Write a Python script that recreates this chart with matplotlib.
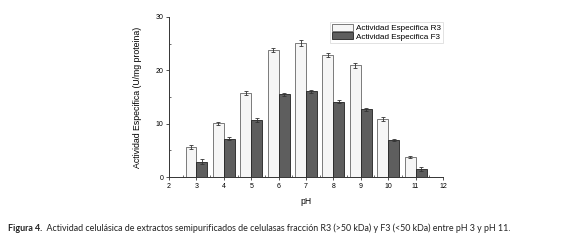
import matplotlib
matplotlib.use("Agg")
import matplotlib.pyplot as plt
import numpy as np
from matplotlib.ticker import MultipleLocator

ph = [3, 4, 5, 6, 7, 8, 9, 10, 11]
r3 = [5.6, 10.1, 15.7, 23.8, 25.1, 22.9, 20.9, 10.9, 3.7]
r3_err = [0.35, 0.3, 0.4, 0.45, 0.5, 0.4, 0.4, 0.4, 0.2]
f3 = [2.9, 7.2, 10.7, 15.5, 16.1, 14.1, 12.7, 6.9, 1.5]
f3_err = [0.4, 0.35, 0.35, 0.25, 0.3, 0.25, 0.25, 0.2, 0.4]

label_r3 = "Actividad Especifica R3"
label_f3 = "Actividad Especifica F3"
xlabel = "pH"
ylabel = "Actividad Especifica (U/mg proteina)"
caption_bold = "Figura 4."
caption_text = ("  Actividad celulásica de extractos semipurificados de celulasas fracción R3 "
                "(>50 kDa) y F3 (<50 kDa) entre pH 3 y pH 11.")

plt.rcParams['font.family'] = ['Liberation Sans', 'DejaVu Sans']

fig = plt.figure(figsize=(5.79, 2.49), dpi=100)
ax = fig.add_axes([0.292, 0.289, 0.473, 0.643])

x = np.array(ph, dtype=float)
w = 0.4
ekw = dict(elinewidth=0.6, capthick=0.6, ecolor='#333333')
ax.bar(x - w/2, r3, width=w, color='#f6f6f6', edgecolor='#666666', linewidth=0.6,
       yerr=r3_err, capsize=1.5, error_kw=ekw, label=label_r3)
ax.bar(x + w/2, f3, width=w, color='#5e5e5e', edgecolor='#222222', linewidth=0.6,
       yerr=f3_err, capsize=1.5, error_kw=ekw, label=label_f3)

ax.set_xlim(2, 12)
ax.set_ylim(0, 30)
ax.set_xticks(range(2, 13))
ax.set_yticks([0, 10, 20, 30])
ax.xaxis.set_minor_locator(MultipleLocator(0.5))
ax.yaxis.set_minor_locator(MultipleLocator(5))
ax.tick_params(which='major', direction='out', length=2.5, width=0.6, labelsize=5, pad=1.5, color='#333333')
ax.tick_params(which='minor', direction='in', length=1.5, width=0.5, color='#333333')
for s in ['top', 'right']:
    ax.spines[s].set_visible(False)
for s in ['left', 'bottom']:
    ax.spines[s].set_linewidth(0.7)
    ax.spines[s].set_color('#333333')

ax.set_xlabel(xlabel, fontsize=6.2, labelpad=5)
ax.set_ylabel(ylabel, fontsize=6.3, labelpad=10)

leg = ax.legend(loc='upper right', fontsize=5.9, frameon=True, fancybox=False,
                edgecolor='#cccccc', handlelength=2.6, handleheight=0.9,
                borderpad=0.25, labelspacing=0.05, handletextpad=0.3,
                borderaxespad=0.0, bbox_to_anchor=(1.0, 0.97))
leg.get_frame().set_linewidth(0.5)

t1 = fig.text(0.014, 0.084, caption_bold, fontsize=6.4, fontweight='bold', va='center',
              family=['Lato', 'DejaVu Sans'], color='#222222')
fig.canvas.draw()
bb = t1.get_window_extent()
x2 = bb.x1 / fig.bbox.width
fig.text(x2, 0.084, caption_text, fontsize=6.4, va='center',
         family=['Lato', 'DejaVu Sans'], color='#222222')

fig.savefig("out.png", dpi=100)
